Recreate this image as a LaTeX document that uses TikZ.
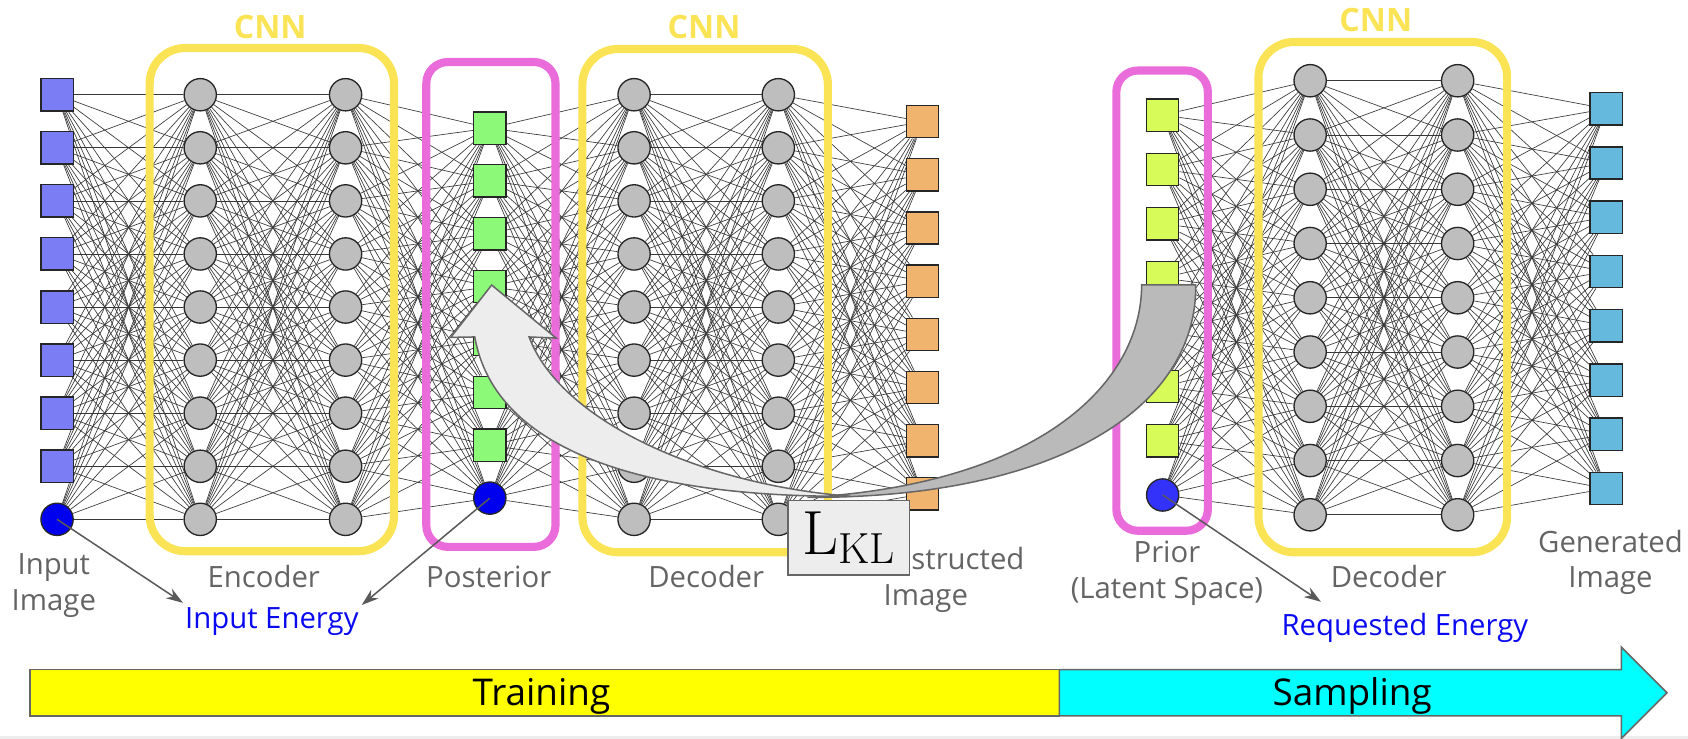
\documentclass[tikz,border=0pt]{standalone}
\usepackage{fontspec}
\newfontfamily\labelfont{Open Sans}
\usetikzlibrary{arrows.meta}

\definecolor{inblue}{RGB}{123,125,245}
\definecolor{biasblue}{RGB}{0,0,238}
\definecolor{priorblue}{RGB}{50,50,250}
\definecolor{postgreen}{RGB}{140,250,120}
\definecolor{recorange}{RGB}{240,180,110}
\definecolor{priorlime}{RGB}{215,252,90}
\definecolor{genblue}{RGB}{100,185,220}
\definecolor{nngray}{RGB}{190,190,190}
\definecolor{cnnyellow}{RGB}{250,228,85}
\definecolor{latpink}{RGB}{234,107,218}
\definecolor{capgray}{RGB}{100,100,100}
\definecolor{energyblue}{RGB}{10,10,240}
\definecolor{trainyellow}{RGB}{255,255,0}
\definecolor{samplecyan}{RGB}{0,255,255}

\pgfdeclarelayer{links}
\pgfdeclarelayer{frames}
\pgfdeclarelayer{front}
\pgfsetlayers{links,frames,main,front}

\begin{document}
\begin{tikzpicture}[x=0.02cm,y=-0.02cm,
    sq/.style={rectangle,draw=black!85,line width=0.7pt,minimum size=0.6cm,inner sep=0mm},
    neuron/.style={circle,draw=black!85,line width=0.7pt,fill=nngray,minimum size=0.6cm,inner sep=0mm},
    bias/.style={circle,draw=black!85,line width=0.7pt,minimum size=0.6cm,inner sep=0mm},
    link/.style={draw=black!78,line width=0.35pt},
    cnnframe/.style={draw=cnnyellow,line width=4.3pt,rounded corners=0.66cm},
    latframe/.style={draw=latpink,line width=4.3pt,rounded corners=0.4cm},
    cnnlabel/.style={text=cnnyellow,font=\labelfont\bfseries\fontsize{17}{17}\selectfont},
    caption/.style={text=capgray,font=\labelfont\fontsize{15.5}{18.8}\selectfont,align=center,anchor=base},
    energy/.style={text=energyblue,font=\labelfont\fontsize{15.5}{18.8}\selectfont,anchor=base},
    pointer/.style={draw=black!65,line width=0.8pt,-{Stealth[length=9pt,width=6pt]}},
    band/.style={draw=black!60,line width=0.8pt},
    phase/.style={font=\labelfont\fontsize{19.5}{20}\selectfont,anchor=base}]
  \useasboundingbox (0,0) rectangle (1568,686);

  % training net: input, encoder, posterior, decoder, reconstruction
  \foreach \k in {1,...,8}
    \node[sq,fill=inblue] (in\k) at (53,{88+49.3*(\k-1)}) {};
  \node[bias,fill=biasblue] (in9) at (53,{88+49.3*8}) {};
  \foreach \k in {1,...,9} {
    \node[neuron] (ea\k) at (186,{88+49.3*(\k-1)}) {};
    \node[neuron] (eb\k) at (321,{88+49.3*(\k-1)}) {};
  }
  \foreach \k in {1,...,7}
    \node[sq,fill=postgreen] (po\k) at (455,{119+49.1*(\k-1)}) {};
  \node[bias,fill=biasblue] (po8) at (455,{119+49.1*7}) {};
  \foreach \k in {1,...,9} {
    \node[neuron] (da\k) at (589,{88+49.3*(\k-1)}) {};
    \node[neuron] (db\k) at (723,{88+49.3*(\k-1)}) {};
  }
  \foreach \k in {1,...,8}
    \node[sq,fill=recorange] (re\k) at (857,{113+49.4*(\k-1)}) {};

  % sampling net: prior, decoder, generated
  \foreach \k in {1,...,7}
    \node[sq,fill=priorlime] (pr\k) at (1080,{107+50.4*(\k-1)}) {};
  \node[bias,fill=priorblue] (pr8) at (1080,{107+50.4*7}) {};
  \foreach \k in {1,...,9} {
    \node[neuron] (sa\k) at (1217,{75+50.4*(\k-1)}) {};
    \node[neuron] (sb\k) at (1354,{75+50.4*(\k-1)}) {};
  }
  \foreach \k in {1,...,8}
    \node[sq,fill=genblue] (ge\k) at (1492,{101+50.4*(\k-1)}) {};

  % dense connections
  \begin{pgfonlayer}{links}
    \foreach \a/\na/\b/\nb in {in/9/ea/9,ea/9/eb/9,eb/9/po/8,po/8/da/9,da/9/db/9,db/9/re/8,pr/8/sa/9,sa/9/sb/9,sb/9/ge/8}
      \foreach \i in {1,...,\na}
        \foreach \j in {1,...,\nb}
          \draw[link] (\a\i) -- (\b\j);
  \end{pgfonlayer}

  % frames
  \begin{pgfonlayer}{frames}
    \draw[cnnframe] (139,44.6) rectangle (366,512);
    \draw[latframe] (396,57.6) rectangle (516,508);
    \draw[cnnframe] (541,45.5) rectangle (769,513);
    \draw[latframe] (1037,65.5) rectangle (1122,493);
    \draw[cnnframe] (1169,39) rectangle (1400,513);
  \end{pgfonlayer}
  \node[cnnlabel] (cnn1) at (251,25.5) {CNN};
  \node[cnnlabel] (cnn2) at (654,25.5) {CNN};
  \node[cnnlabel] (cnn3) at (1278,18.6) {CNN};

  % captions (base = last line)
  \node[caption] (lin) at (50,567) {Input\\Image};
  \node[caption] (lenc) at (245,546) {Encoder};
  \node[caption] (lpost) at (454,546) {Posterior};
  \node[caption] (ldec) at (656,546) {Decoder};
  \node[caption] (lrec) at (860,562) {Reconstructed\\Image};
  \node[caption] (lprior) at (1084,556) {Prior\\(Latent Space)};
  \node[caption] (lsdec) at (1290,546) {Decoder};
  \node[caption] (lgen) at (1496,546) {Generated\\Image};
  \node[energy] (inen) at (252.5,583.5) {Input Energy};
  \node[energy] (reqen) at (1305,590) {Requested Energy};
  \coordinate (tipa) at (170,560);
  \coordinate (tipb) at (336,562);
  \coordinate (tipc) at (1227,559);

  \begin{pgfonlayer}{front}
    \draw[pointer] (in9.center) -- (tipa);
    \draw[pointer] (po8.center) -- (tipb);
    \draw[pointer] (pr8.center) -- (tipc);
    % KL arrow: back side first, then front with head
    \filldraw[band,fill=black!27] (1060.5,264.7) -- (1110.7,264.7)
      .. controls (1112,380) and (980,463) .. (750,462)
      .. controls (960,450) and (1060,360) .. (1060.5,264.7) -- cycle;
    \filldraw[band,fill=black!7] (441,313) -- (418.7,313.4) -- (456.7,264.8)
      -- (516.5,314) -- (491.5,313)
      .. controls (520,390) and (650,450) .. (790,461)
      .. controls (600,462) and (460,420) .. (441,313) -- cycle;
    \node[band,fill=black!7,minimum width=2.26cm,minimum height=1.38cm,inner sep=0pt] (kl)
      at (788.5,499.5) {\fontsize{33}{33}\selectfont L\lower4.8pt\hbox{\fontsize{23}{23}\selectfont KL}};
  \end{pgfonlayer}

  % phases
  \fill[black!7] (0,684) rectangle (1568,686);
  \draw[band,fill=trainyellow] (28,622) rectangle (984,665);
  \draw[band,fill=samplecyan] (984,622) -- (1506,622) -- (1506,601) -- (1548.5,643.5)
    -- (1506,686) -- (1506,665) -- (984,665) -- cycle;
  \node[phase] (train) at (503,655) {Training};
  \node[phase] (samp) at (1256,655) {Sampling};
\end{tikzpicture}
\end{document}
